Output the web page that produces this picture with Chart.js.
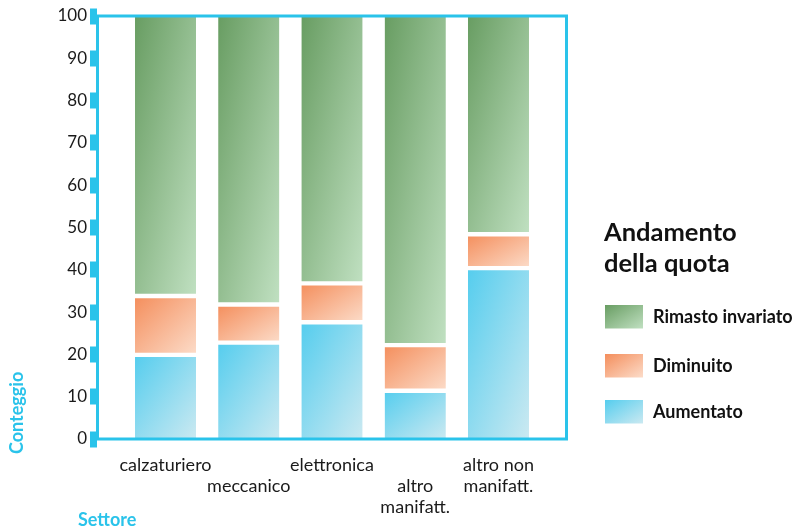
<!DOCTYPE html>
<html>
<head>
<meta charset="utf-8">
<script src="https://cdn.jsdelivr.net/npm/chart.js@4.4.1/dist/chart.umd.min.js"></script>
<style>
  html, body { margin: 0; padding: 0; background: #ffffff; }
  #wrap { width: 797px; height: 529px; }
</style>
</head>
<body>
<div id="wrap"><canvas id="grafico" width="797" height="529"></canvas></div>
<script>
// Settori (etichette dell'asse x, su più righe) e loro posizione sull'asse
const settori = [
  ['calzaturiero'],
  ['', 'meccanico'],
  ['elettronica'],
  ['', 'altro', 'manifatt.'],
  ['altro non', 'manifatt.']
];
const posizioni = [1, 2, 3, 4, 5];

// Quote (%) per andamento della quota
const aumentato = [19.9, 22.8, 27.6, 11.4, 40.4];
const diminuito = [13.9, 9.0, 9.2, 10.8, 8.0];
const invariato = [66.2, 68.2, 63.2, 77.8, 51.6];

const nomiSerie = ['Aumentato', 'Diminuito', 'Rimasto invariato'];
const tickY = [0, 10, 20, 30, 40, 50, 60, 70, 80, 90, 100];

const serie = [aumentato, diminuito, invariato];
const sfumature = [
  ['#55cdee', '#cbe9f1'],
  ['#f48e5c', '#fcdcc9'],
  ['#689d62', '#c0e0c1']
];
const AZZURRO = '#2ac3ea';
const SPESSORE = 61;
const FONT = 'Lato, "Open Sans", sans-serif';

// Sfumatura diagonale che va dall'angolo in alto a sinistra a quello in basso a destra
function gradiente(c, x, y, w, h, stops) {
  const a = 1 / (2 * w), b = 1 / (2 * h), n = a * a + b * b;
  const g = c.createLinearGradient(x, y, x + a / n, y + b / n);
  g.addColorStop(0, stops[0]);
  g.addColorStop(1, stops[1]);
  return g;
}

function coloreSegmento(k) {
  return (ctx) => {
    const chart = ctx.chart;
    if (ctx.type !== 'data' || !chart.chartArea) return sfumature[k][0];
    const i = ctx.dataIndex;
    let lo = 0;
    for (let j = 0; j < k; j++) lo += serie[j][i];
    const hi = lo + serie[k][i];
    const xs = chart.scales.x, ys = chart.scales.y;
    const cx = xs.getPixelForValue(posizioni[i]);
    const top = ys.getPixelForValue(hi), bot = ys.getPixelForValue(lo);
    return gradiente(chart.ctx, cx - SPESSORE / 2, top, SPESSORE, bot - top, sfumature[k]);
  };
}

const bordi = [
  { top: 2.5, bottom: 0, left: 0, right: 0 },
  { top: 2.5, bottom: 2.5, left: 0, right: 0 },
  { top: 0, bottom: 2.5, left: 0, right: 0 }
];

// Cornice azzurra, titoli degli assi e legenda
const decorazioni = {
  id: 'decorazioni',
  afterDatasetsDraw(chart) {
    const c = chart.ctx, a = chart.chartArea;
    c.save();
    c.strokeStyle = AZZURRO;
    c.lineWidth = 3;
    c.strokeRect(a.left + 0.5, a.top, a.right - a.left - 1, a.bottom - a.top);
    c.restore();
  },
  afterDraw(chart) {
    const c = chart.ctx;
    c.save();
    c.fillStyle = AZZURRO;
    c.font = 'bold 18px ' + FONT;
    c.textBaseline = 'alphabetic';
    c.textAlign = 'left';
    c.fillText('Settore', 78, 526);
    c.translate(23, 454);
    c.rotate(-Math.PI / 2);
    c.fillText('Conteggio', 0, 0);
    c.restore();

    c.save();
    c.fillStyle = '#111111';
    c.textAlign = 'left';
    c.textBaseline = 'alphabetic';
    c.font = 'bold 25.5px ' + FONT;
    c.fillText('Andamento', 604, 241);
    c.fillText('della quota', 604, 272);
    c.font = 'bold 18px ' + FONT;
    c.textBaseline = 'middle';
    const righe = [305, 354, 400];
    [2, 1, 0].forEach((k, r) => {
      const y = righe[r];
      c.fillStyle = gradiente(c, 605, y, 38, 23.5, sfumature[k]);
      c.fillRect(605, y, 38, 23.5);
      c.fillStyle = '#111111';
      c.fillText(nomiSerie[k], 653, y + 12.5);
    });
    c.restore();
  }
};

new Chart(document.getElementById('grafico'), {
  type: 'bar',
  data: {
    labels: posizioni,
    datasets: serie.map((valori, k) => ({
      label: nomiSerie[k],
      data: valori,
      backgroundColor: coloreSegmento(k),
      borderColor: '#ffffff',
      borderWidth: bordi[k],
      borderSkipped: false,
      barThickness: SPESSORE
    }))
  },
  options: {
    responsive: false,
    animation: false,
    devicePixelRatio: 1,
    layout: { padding: { left: 0, top: 16, right: 230, bottom: 0 } },
    plugins: {
      legend: { display: false },
      tooltip: { enabled: false }
    },
    scales: {
      x: {
        type: 'linear',
        stacked: true,
        offset: false,
        min: 0.177,
        max: 5.823,
        afterFit(s) { s.height = 90; },
        afterBuildTicks(s) { s.ticks = posizioni.map(v => ({ value: v })); },
        grid: { display: false, drawTicks: false, offset: false },
        border: { display: false },
        ticks: {
          padding: 16,
          autoSkip: false,
          maxRotation: 0,
          color: '#1a1a1a',
          font: { family: FONT, size: 18, lineHeight: 1.17 },
          callback: (v) => settori[posizioni.indexOf(v)]
        }
      },
      y: {
        stacked: true,
        min: 0,
        max: 100,
        afterFit(s) { s.width = 97; },
        afterBuildTicks(s) { s.ticks = tickY.map(v => ({ value: v })); },
        grid: {
          drawOnChartArea: false,
          drawTicks: true,
          tickLength: 7,
          tickWidth: 16,
          tickColor: AZZURRO
        },
        border: { display: false },
        ticks: {
          padding: 3,
          color: '#1a1a1a',
          font: { family: FONT, size: 17 }
        }
      }
    }
  },
  plugins: [decorazioni]
});
</script>
</body>
</html>
